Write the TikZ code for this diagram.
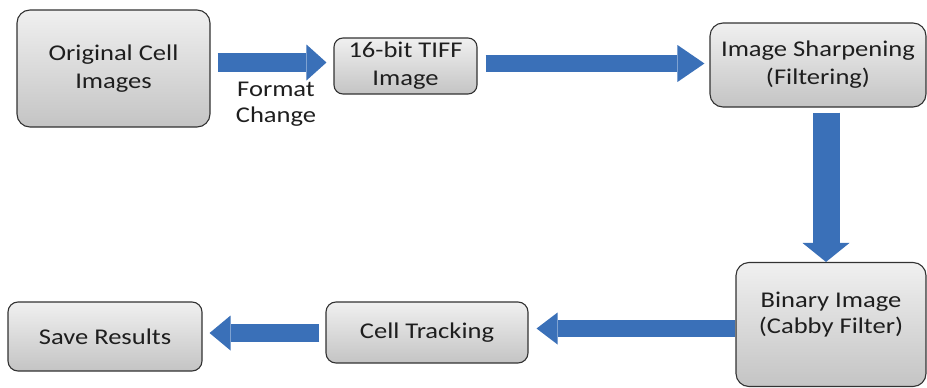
\documentclass[tikz,border=0pt]{standalone}
\usepackage{fontspec}
\setmainfont{Carlito}[FakeStretch=1.18]
\usetikzlibrary{arrows.meta,calc}
\definecolor{boxtop}{RGB}{240,240,240}
\definecolor{boxbot}{RGB}{196,196,196}
\definecolor{boxline}{RGB}{50,50,50}
\definecolor{arrowblue}{RGB}{58,112,184}
\definecolor{txt}{RGB}{30,30,30}
\tikzset{
  procbox/.style={draw=boxline, line width=1.1pt, rounded corners=13pt,
    top color=boxtop, bottom color=boxbot, inner sep=0pt, align=center,
    text=txt, font=\fontsize{22.5}{28}\selectfont},
  bigarrow/.style={draw=arrowblue, line cap=butt}
}
\begin{document}
\begin{tikzpicture}[x=1pt,y=-1pt]
\useasboundingbox (0,0) rectangle (927,388);
\node[procbox, minimum width=193pt, minimum height=117pt] (orig) at (113.5,68.5) {Original Cell\\Images};
\node[procbox, minimum width=143pt, minimum height=56pt, rounded corners=9pt] (tiff) at (405.5,66) {16-bit TIFF\\Image};
\node[procbox, minimum width=216pt, minimum height=84pt] (sharp) at (818,65) {Image Sharpening\\(Filtering)};
\node[procbox, minimum width=190pt, minimum height=124pt] (binary) at (831,324.5) {};
\node[align=center, text=txt, font=\fontsize{22.5}{26}\selectfont] (bintext) at (831,315) {Binary Image\\(Cabby Filter)};
\node[procbox, minimum width=202pt, minimum height=61pt, rounded corners=10pt] (track) at (427,332.5) {Cell Tracking};
\node[procbox, minimum width=194pt, minimum height=69pt, rounded corners=10pt] (save) at (105,336.5) {Save Results};
\node[align=center, text=txt, font=\fontsize{22.5}{26}\selectfont] (fmt) at (276,104) {Format\\Change};
% arrows
\coordinate (a1) at ($(orig.east)+(0,-6)$);
\draw[bigarrow, line width=19pt, -{Triangle[length=20pt,width=36pt,line width=0pt]}, shorten <=7pt, shorten >=7pt]
  (a1) -- (a1 -| tiff.west);
\coordinate (a2) at ($(tiff.east)+(0,-2.5)$);
\draw[bigarrow, line width=17pt, -{Triangle[length=27pt,width=37pt,line width=0pt]}, shorten <=8pt, shorten >=5pt]
  (a2) -- (a2 -| sharp.west);
\coordinate (a3) at ($(sharp.south)+(8,0)$);
\draw[bigarrow, line width=27pt, -{Triangle[length=19pt,width=47pt,line width=0pt]}, shorten <=5pt]
  (a3) -- (a3 |- binary.north);
\coordinate (a4) at ($(binary.west)+(0,4)$);
\draw[bigarrow, line width=17pt, -{Triangle[length=21pt,width=32pt,line width=0pt]}, shorten >=8pt]
  (a4) -- (a4 -| track.east);
\coordinate (a5) at ($(track.west)+(0,0.5)$);
\draw[bigarrow, line width=18pt, -{Triangle[length=21pt,width=35pt,line width=0pt]}, shorten <=6pt, shorten >=7pt]
  (a5) -- (a5 -| save.east);
\end{tikzpicture}
\end{document}
